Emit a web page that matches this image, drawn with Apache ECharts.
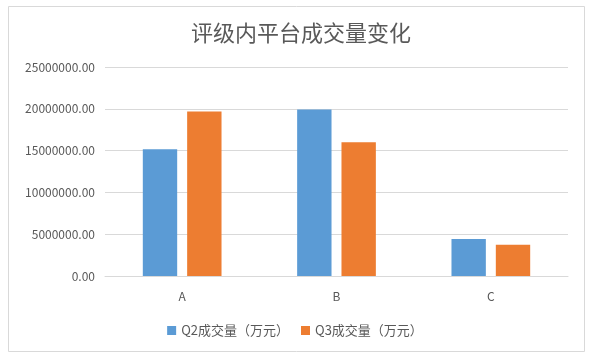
<!DOCTYPE html>
<html><head><meta charset="utf-8">
<script src="https://cdn.jsdelivr.net/npm/echarts@6/dist/echarts.min.js"></script>
<style>html,body{margin:0;padding:0;background:#fff}#c{width:590px;height:357px}</style>
</head><body><div id="c"></div>
<script>
const categories = ['A', 'B', 'C'];
const seriesNames = ['Q2成交量（万元）', 'Q3成交量（万元）'];
const q2Values = [15150000, 19920000, 4440000];
const q3Values = [19680000, 15990000, 3730000];
const titleText = '评级内平台成交量变化';

const chart = echarts.init(document.getElementById('c'));
const font = 'Microsoft YaHei, "Noto Sans CJK SC", sans-serif';
chart.setOption({
  animation: false,
  backgroundColor: '#fff',
  title: {
    text: titleText, left: 296, top: 17, textAlign: 'center',
    textStyle: { fontSize: 22, fontWeight: 'normal', color: '#595959', fontFamily: font }
  },
  graphic: [{
    type: 'rect', shape: { x: 8.5, y: 6.5, width: 576, height: 345 },
    style: { fill: null, stroke: '#d9d9d9', lineWidth: 1 }, silent: true
  }],
  legend: {
    data: seriesNames, bottom: 15, left: 'center', itemWidth: 9, itemHeight: 9, itemGap: 12,
    icon: 'rect',
    textStyle: { fontSize: 13, color: '#595959', fontFamily: font }
  },
  grid: { left: 105, right: 22, top: 67, bottom: 81, containLabel: false },
  xAxis: {
    type: 'category', data: categories,
    axisLine: { lineStyle: { color: '#d9d9d9' } },
    axisTick: { show: false },
    axisLabel: { color: '#595959', fontSize: 12, margin: 14, fontFamily: font }
  },
  yAxis: {
    type: 'value', min: 0, max: 25000000, interval: 5000000,
    axisLine: { show: false }, axisTick: { show: false },
    splitLine: { lineStyle: { color: '#d9d9d9' } },
    axisLabel: { color: '#595959', fontSize: 12, margin: 10, fontFamily: font,
      formatter: v => v.toFixed(2) }
  },
  series: [
    { name: seriesNames[0], type: 'bar', data: q2Values, barGap: '29%', barCategoryGap: '49%',
      itemStyle: { color: '#5b9bd5' } },
    { name: seriesNames[1], type: 'bar', data: q3Values, barGap: '29%', barCategoryGap: '49%',
      itemStyle: { color: '#ed7d31' } }
  ]
});
</script></body></html>
